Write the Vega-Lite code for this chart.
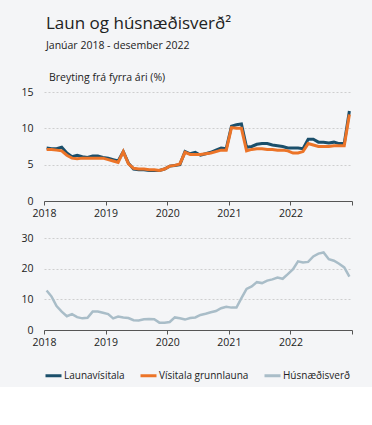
{
  "$schema": "https://vega.github.io/schema/vega-lite/v6.json",
  "background": "#f4f5f7",
  "padding": {"left": 20, "top": 15, "right": 19, "bottom": 5},
  "title": {
    "text": "Laun og húsnæðisverð²",
    "subtitle": "Janúar 2018 - desember 2022",
    "anchor": "start",
    "dx": 25,
    "fontSize": 17,
    "fontWeight": "normal",
    "font": "Open Sans",
    "color": "#222222",
    "subtitleFont": "Open Sans",
    "subtitleFontSize": 10.5,
    "subtitleColor": "#222222",
    "subtitlePadding": 8,
    "offset": 20
  },
  "data": {
    "values": [
      {"date": "2018-01-01", "Launavísitala": 7.3, "Vísitala grunnlauna": 7.1, "Húsnæðisverð": 12.9},
      {"date": "2018-02-01", "Launavísitala": 7.2, "Vísitala grunnlauna": 7.1, "Húsnæðisverð": 10.9},
      {"date": "2018-03-01", "Launavísitala": 7.2, "Vísitala grunnlauna": 7.0, "Húsnæðisverð": 7.8},
      {"date": "2018-04-01", "Launavísitala": 7.4, "Vísitala grunnlauna": 6.9, "Húsnæðisverð": 6.0},
      {"date": "2018-05-01", "Launavísitala": 6.6, "Vísitala grunnlauna": 6.3, "Húsnæðisverð": 4.5},
      {"date": "2018-06-01", "Launavísitala": 6.1, "Vísitala grunnlauna": 5.9, "Húsnæðisverð": 5.2},
      {"date": "2018-07-01", "Launavísitala": 6.3, "Vísitala grunnlauna": 5.8, "Húsnæðisverð": 4.2},
      {"date": "2018-08-01", "Launavísitala": 6.1, "Vísitala grunnlauna": 5.9, "Húsnæðisverð": 3.8},
      {"date": "2018-09-01", "Launavísitala": 6.0, "Vísitala grunnlauna": 5.9, "Húsnæðisverð": 4.0},
      {"date": "2018-10-01", "Launavísitala": 6.2, "Vísitala grunnlauna": 5.9, "Húsnæðisverð": 6.0},
      {"date": "2018-11-01", "Launavísitala": 6.2, "Vísitala grunnlauna": 5.9, "Húsnæðisverð": 6.0},
      {"date": "2018-12-01", "Launavísitala": 6.0, "Vísitala grunnlauna": 5.9, "Húsnæðisverð": 5.6},
      {"date": "2019-01-01", "Launavísitala": 5.9, "Vísitala grunnlauna": 5.7, "Húsnæðisverð": 5.2},
      {"date": "2019-02-01", "Launavísitala": 5.7, "Vísitala grunnlauna": 5.5, "Húsnæðisverð": 3.8},
      {"date": "2019-03-01", "Launavísitala": 5.5, "Vísitala grunnlauna": 5.3, "Húsnæðisverð": 4.4},
      {"date": "2019-04-01", "Launavísitala": 6.8, "Vísitala grunnlauna": 6.8, "Húsnæðisverð": 4.1},
      {"date": "2019-05-01", "Launavísitala": 5.2, "Vísitala grunnlauna": 5.1, "Húsnæðisverð": 3.9},
      {"date": "2019-06-01", "Launavísitala": 4.4, "Vísitala grunnlauna": 4.5, "Húsnæðisverð": 3.2},
      {"date": "2019-07-01", "Launavísitala": 4.3, "Vísitala grunnlauna": 4.4, "Húsnæðisverð": 3.1},
      {"date": "2019-08-01", "Launavísitala": 4.3, "Vísitala grunnlauna": 4.4, "Húsnæðisverð": 3.5},
      {"date": "2019-09-01", "Launavísitala": 4.2, "Vísitala grunnlauna": 4.3, "Húsnæðisverð": 3.6},
      {"date": "2019-10-01", "Launavísitala": 4.2, "Vísitala grunnlauna": 4.3, "Húsnæðisverð": 3.5},
      {"date": "2019-11-01", "Launavísitala": 4.2, "Vísitala grunnlauna": 4.2, "Húsnæðisverð": 2.4},
      {"date": "2019-12-01", "Launavísitala": 4.4, "Vísitala grunnlauna": 4.4, "Húsnæðisverð": 2.4},
      {"date": "2020-01-01", "Launavísitala": 4.8, "Vísitala grunnlauna": 4.8, "Húsnæðisverð": 2.6},
      {"date": "2020-02-01", "Launavísitala": 4.9, "Vísitala grunnlauna": 4.9, "Húsnæðisverð": 4.1},
      {"date": "2020-03-01", "Launavísitala": 5.0, "Vísitala grunnlauna": 5.1, "Húsnæðisverð": 3.8},
      {"date": "2020-04-01", "Launavísitala": 6.8, "Vísitala grunnlauna": 6.7, "Húsnæðisverð": 3.4},
      {"date": "2020-05-01", "Launavísitala": 6.5, "Vísitala grunnlauna": 6.4, "Húsnæðisverð": 3.9},
      {"date": "2020-06-01", "Launavísitala": 6.7, "Vísitala grunnlauna": 6.4, "Húsnæðisverð": 4.1},
      {"date": "2020-07-01", "Launavísitala": 6.3, "Vísitala grunnlauna": 6.4, "Húsnæðisverð": 4.9},
      {"date": "2020-08-01", "Launavísitala": 6.5, "Vísitala grunnlauna": 6.5, "Húsnæðisverð": 5.3},
      {"date": "2020-09-01", "Launavísitala": 6.7, "Vísitala grunnlauna": 6.6, "Húsnæðisverð": 5.8},
      {"date": "2020-10-01", "Launavísitala": 7.0, "Vísitala grunnlauna": 6.8, "Húsnæðisverð": 6.2},
      {"date": "2020-11-01", "Launavísitala": 7.3, "Vísitala grunnlauna": 7.0, "Húsnæðisverð": 7.1},
      {"date": "2020-12-01", "Launavísitala": 7.2, "Vísitala grunnlauna": 7.0, "Húsnæðisverð": 7.6},
      {"date": "2021-01-01", "Launavísitala": 10.3, "Vísitala grunnlauna": 10.1, "Húsnæðisverð": 7.3},
      {"date": "2021-02-01", "Launavísitala": 10.5, "Vísitala grunnlauna": 10.0, "Húsnæðisverð": 7.3},
      {"date": "2021-03-01", "Launavísitala": 10.6, "Vísitala grunnlauna": 10.0, "Húsnæðisverð": 10.4},
      {"date": "2021-04-01", "Launavísitala": 7.4, "Vísitala grunnlauna": 6.9, "Húsnæðisverð": 13.4},
      {"date": "2021-05-01", "Launavísitala": 7.5, "Vísitala grunnlauna": 7.1, "Húsnæðisverð": 14.2},
      {"date": "2021-06-01", "Launavísitala": 7.8, "Vísitala grunnlauna": 7.2, "Húsnæðisverð": 15.6},
      {"date": "2021-07-01", "Launavísitala": 7.9, "Vísitala grunnlauna": 7.2, "Húsnæðisverð": 15.3},
      {"date": "2021-08-01", "Launavísitala": 7.9, "Vísitala grunnlauna": 7.1, "Húsnæðisverð": 16.1},
      {"date": "2021-09-01", "Launavísitala": 7.7, "Vísitala grunnlauna": 7.1, "Húsnæðisverð": 16.5},
      {"date": "2021-10-01", "Launavísitala": 7.6, "Vísitala grunnlauna": 7.0, "Húsnæðisverð": 17.1},
      {"date": "2021-11-01", "Launavísitala": 7.5, "Vísitala grunnlauna": 7.0, "Húsnæðisverð": 16.7},
      {"date": "2021-12-01", "Launavísitala": 7.3, "Vísitala grunnlauna": 6.9, "Húsnæðisverð": 18.2},
      {"date": "2022-01-01", "Launavísitala": 7.3, "Vísitala grunnlauna": 6.6, "Húsnæðisverð": 19.8},
      {"date": "2022-02-01", "Launavísitala": 7.3, "Vísitala grunnlauna": 6.6, "Húsnæðisverð": 22.4},
      {"date": "2022-03-01", "Launavísitala": 7.2, "Vísitala grunnlauna": 6.8, "Húsnæðisverð": 22.0},
      {"date": "2022-04-01", "Launavísitala": 8.5, "Vísitala grunnlauna": 7.9, "Húsnæðisverð": 22.2},
      {"date": "2022-05-01", "Launavísitala": 8.5, "Vísitala grunnlauna": 7.7, "Húsnæðisverð": 24.0},
      {"date": "2022-06-01", "Launavísitala": 8.1, "Vísitala grunnlauna": 7.5, "Húsnæðisverð": 24.9},
      {"date": "2022-07-01", "Launavísitala": 8.1, "Vísitala grunnlauna": 7.5, "Húsnæðisverð": 25.3},
      {"date": "2022-08-01", "Launavísitala": 8.0, "Vísitala grunnlauna": 7.5, "Húsnæðisverð": 23.1},
      {"date": "2022-09-01", "Launavísitala": 8.1, "Vísitala grunnlauna": 7.6, "Húsnæðisverð": 22.6},
      {"date": "2022-10-01", "Launavísitala": 7.9, "Vísitala grunnlauna": 7.6, "Húsnæðisverð": 21.6},
      {"date": "2022-11-01", "Launavísitala": 7.9, "Vísitala grunnlauna": 7.6, "Húsnæðisverð": 20.4},
      {"date": "2022-12-01", "Launavísitala": 12.4, "Vísitala grunnlauna": 11.9, "Húsnæðisverð": 17.4}
    ]
  },
  "spacing": 14,
  "vconcat": [
    {
      "width": 308,
      "height": 109,
      "title": {"text": "Breyting frá fyrra ári (%)", "anchor": "start", "frame": "group", "fontSize": 10.5, "fontWeight": "normal", "font": "Open Sans", "color": "#222222", "offset": 4, "dx": 5},
      "transform": [{"fold": ["Launavísitala", "Vísitala grunnlauna"], "as": ["series", "value"]}],
      "mark": {"type": "line", "strokeWidth": 3},
      "encoding": {
        "x": {
          "field": "date", "type": "temporal", "timeUnit": "utcyearmonth", "bandPosition": 0.5,
          "scale": {"domain": [{"year": 2018, "month": 1, "date": 1, "utc": true}, {"year": 2023, "month": 1, "date": 1, "utc": true}]},
          "axis": {
            "title": null, "grid": false, "labelFlush": false,
            "values": [{"year": 2018, "utc": true}, {"year": 2019, "utc": true}, {"year": 2020, "utc": true}, {"year": 2021, "utc": true}, {"year": 2022, "utc": true}, {"year": 2023, "utc": true}],
            "labelExpr": "utcyear(datum.value) > 2022 ? '' : utcFormat(datum.value, '%Y')"
          }
        },
        "y": {"field": "value", "type": "quantitative", "scale": {"domain": [0, 15]}, "axis": {"title": null, "values": [0, 5, 10, 15]}},
        "color": {
          "field": "series", "type": "nominal",
          "scale": {"domain": ["Launavísitala", "Vísitala grunnlauna", "Húsnæðisverð"], "range": ["#1b4f6b", "#ec7428", "#a9bdc8"]},
          "legend": {"orient": "bottom", "direction": "horizontal", "title": null, "symbolType": "stroke", "symbolSize": 256, "symbolStrokeWidth": 3, "labelFontSize": 10, "labelFont": "Open Sans", "labelColor": "#222222", "columnPadding": 9, "labelOffset": 1, "offset": 18}
        }
      }
    },
    {
      "width": 308,
      "height": 92,
      "transform": [{"fold": ["Húsnæðisverð"], "as": ["series", "value"]}],
      "mark": {"type": "line", "strokeWidth": 2.5},
      "encoding": {
        "x": {
          "field": "date", "type": "temporal", "timeUnit": "utcyearmonth", "bandPosition": 0.5,
          "scale": {"domain": [{"year": 2018, "month": 1, "date": 1, "utc": true}, {"year": 2023, "month": 1, "date": 1, "utc": true}]},
          "axis": {
            "title": null, "grid": false, "labelFlush": false,
            "values": [{"year": 2018, "utc": true}, {"year": 2019, "utc": true}, {"year": 2020, "utc": true}, {"year": 2021, "utc": true}, {"year": 2022, "utc": true}, {"year": 2023, "utc": true}],
            "labelExpr": "utcyear(datum.value) > 2022 ? '' : utcFormat(datum.value, '%Y')"
          }
        },
        "y": {"field": "value", "type": "quantitative", "scale": {"domain": [0, 30]}, "axis": {"title": null, "values": [0, 10, 20, 30]}},
        "color": {
          "field": "series", "type": "nominal",
          "scale": {"domain": ["Launavísitala", "Vísitala grunnlauna", "Húsnæðisverð"], "range": ["#1b4f6b", "#ec7428", "#a9bdc8"]},
          "legend": {"orient": "bottom", "direction": "horizontal", "title": null, "symbolType": "stroke", "symbolSize": 256, "symbolStrokeWidth": 3, "labelFontSize": 10, "labelFont": "Open Sans", "labelColor": "#222222", "columnPadding": 9, "labelOffset": 1, "offset": 18}
        }
      }
    }
  ],
  "config": {
    "font": "Open Sans",
    "view": {"stroke": null},
    "axisX": {"domainColor": "#555555", "tickColor": "#555555", "tickSize": 4, "labelFontSize": 10.5, "labelColor": "#222222", "labelPadding": 3, "labelFont": "Open Sans"},
    "axisY": {"domain": false, "ticks": false, "labelPadding": 11, "labelFontSize": 10.5, "labelColor": "#222222", "labelFont": "Open Sans", "gridColor": "#c4c4c4", "gridDash": [2, 2], "gridWidth": 0.8}
  }
}
